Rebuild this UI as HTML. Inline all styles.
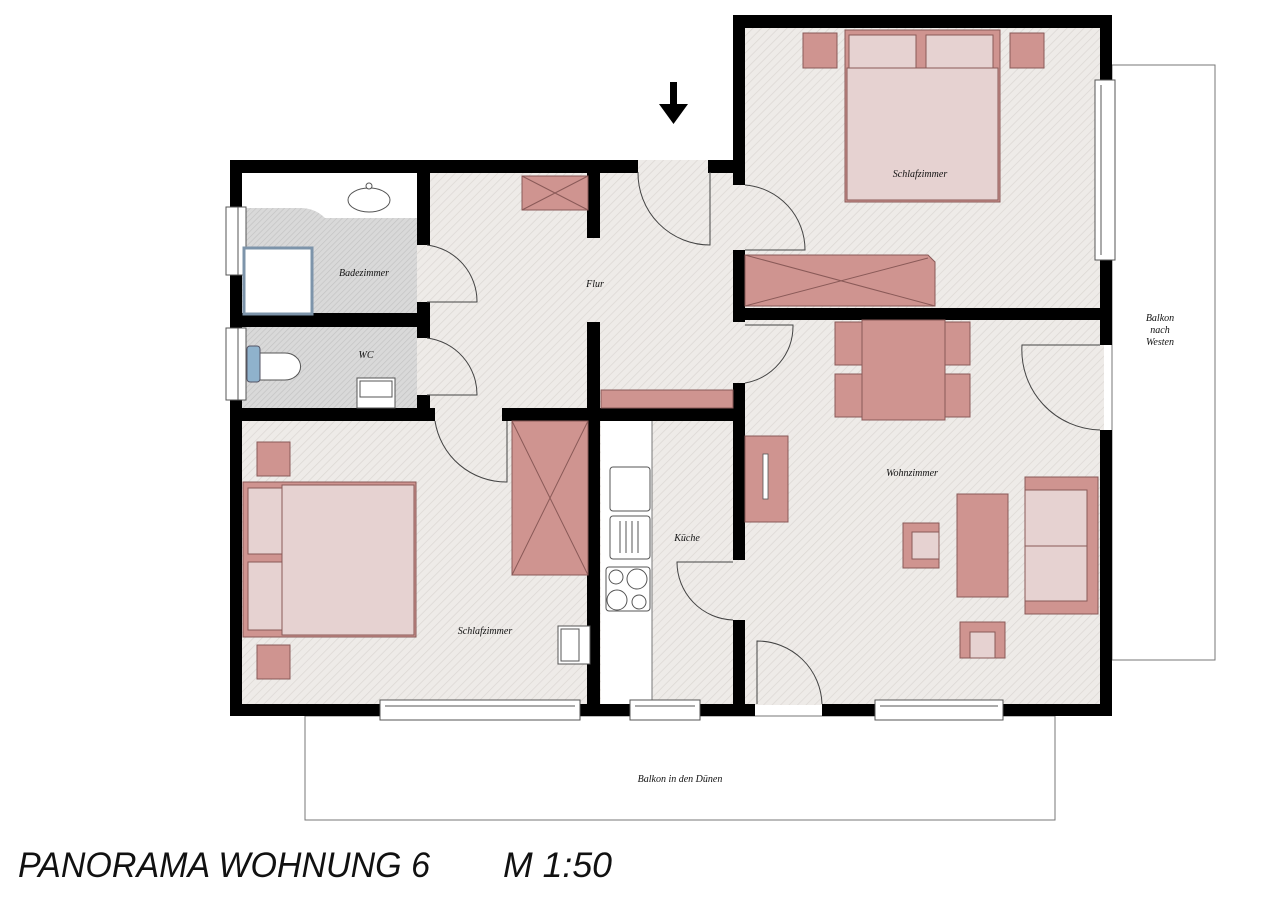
<!DOCTYPE html>
<html><head><meta charset="utf-8"><style>
html,body{margin:0;padding:0;background:#fff;}
svg{display:block;}
.t{font-family:"Liberation Serif",serif;font-style:italic;font-size:10px;fill:#111;}
.h{font-family:"Liberation Sans",sans-serif;font-style:italic;font-size:35px;fill:#111;}
</style></head><body>
<svg width="1280" height="905" viewBox="0 0 1280 905" xmlns="http://www.w3.org/2000/svg">
<defs>
<pattern id="fl" width="6" height="6" patternUnits="userSpaceOnUse" patternTransform="rotate(45)">
<rect width="6" height="6" fill="#eeebe8"/><line x1="0" y1="0" x2="0" y2="6" stroke="#dcd8d4" stroke-width="1.5"/></pattern>
<pattern id="bt" width="4" height="4" patternUnits="userSpaceOnUse" patternTransform="rotate(45)">
<rect width="4" height="4" fill="#d9d9d9"/><line x1="0" y1="0" x2="0" y2="4" stroke="#c2c2c2" stroke-width="1.3"/></pattern>
</defs>
<rect width="1280" height="905" fill="#fff"/>
<rect x="1112" y="65" width="103" height="595" fill="none" stroke="#777" stroke-width="1"/>
<rect x="305" y="716" width="750" height="104" fill="none" stroke="#777" stroke-width="1"/>
<rect x="242" y="172" width="500" height="535" fill="url(#fl)"/>
<rect x="742" y="25" width="362" height="680" fill="url(#fl)"/>
<rect x="638" y="160" width="100" height="14" fill="url(#fl)"/>
<rect x="242" y="172" width="175" height="145" fill="url(#bt)"/>
<path d="M242 172 H417 V218 H325 Q315 208 300 208 H242 Z" fill="#fff"/>
<rect x="242" y="327" width="175" height="81" fill="url(#bt)"/>
<rect x="601" y="420" width="51" height="284" fill="#fff"/>
<line x1="652" y1="420" x2="652" y2="704" stroke="#777"/>
<g fill="#000">
<rect x="230" y="160" width="408" height="13"/>
<rect x="708" y="160" width="37" height="13"/>
<rect x="733" y="15" width="12" height="170"/>
<rect x="733" y="15" width="379" height="13"/>
<rect x="1100" y="15" width="12" height="65"/>
<rect x="1100" y="260" width="12" height="85"/>
<rect x="1100" y="430" width="12" height="286"/>
<rect x="230" y="160" width="12" height="47"/>
<rect x="230" y="275" width="12" height="53"/>
<rect x="230" y="400" width="12" height="316"/>
<rect x="230" y="704" width="150" height="12"/>
<rect x="580" y="704" width="50" height="12"/>
<rect x="700" y="704" width="55" height="12"/>
<rect x="822" y="704" width="53" height="12"/>
<rect x="1003" y="704" width="109" height="12"/>
<rect x="417" y="172" width="13" height="73"/>
<rect x="417" y="302" width="13" height="36"/>
<rect x="417" y="395" width="13" height="25"/>
<rect x="230" y="313" width="200" height="14"/>
<rect x="230" y="408" width="205" height="13"/>
<rect x="502" y="408" width="243" height="13"/>
<rect x="587" y="172" width="13" height="66"/>
<rect x="587" y="322" width="13" height="394"/>
<rect x="733" y="250" width="12" height="72"/>
<rect x="733" y="383" width="12" height="177"/>
<rect x="733" y="620" width="12" height="96"/>
<rect x="733" y="308" width="379" height="12"/>
</g>
<g fill="#fff" stroke="#555" stroke-width="1">
<rect x="226" y="207" width="20" height="68"/><line x1="238" y1="207" x2="238" y2="275"/>
<rect x="226" y="328" width="20" height="72"/><line x1="238" y1="328" x2="238" y2="400"/>
<rect x="1095" y="80" width="20" height="180"/><line x1="1101" y1="85" x2="1101" y2="255"/>
<rect x="380" y="700" width="200" height="20"/><line x1="385" y1="706" x2="575" y2="706"/>
<rect x="630" y="700" width="70" height="20"/><line x1="635" y1="706" x2="695" y2="706"/>
<rect x="875" y="700" width="128" height="20"/><line x1="880" y1="706" x2="998" y2="706"/>
</g>
<g fill="none" stroke="#444" stroke-width="1">
<path d="M710 172 V245 A72 72 0 0 1 638 172"/>
<path d="M427 302 H477 A57 57 0 0 0 427 245"/>
<path d="M427 395 H477 A57 57 0 0 0 427 338"/>
<path d="M745 250 H805 A65 65 0 0 0 745 185"/>
<path d="M745 325 H793 A58 58 0 0 1 745 383"/>
<path d="M507 421 V482 A72 72 0 0 1 435 421"/>
<path d="M733 562 H677 A58 58 0 0 0 733 620"/>
<path d="M1100 345 H1022 A80 80 0 0 0 1100 430"/>
<path d="M757 704 V641 A65 65 0 0 1 822 704"/>
</g>
<g fill="#cf9490" stroke="#8a5a58" stroke-width="1">
<rect x="522" y="176" width="66" height="34"/>
<path d="M522 176 L588 210 M588 176 L522 210" fill="none"/>
<rect x="601" y="390" width="132" height="18"/>
<path d="M745 255 H928 L935 262 V306 H745 Z"/>
<path d="M745 255 L935 306 M745 306 L928 258" fill="none"/>
<rect x="803" y="33" width="34" height="35"/>
<rect x="1010" y="33" width="34" height="35"/>
<rect x="845" y="30" width="155" height="172"/>
<rect x="512" y="421" width="76" height="154"/>
<path d="M512 421 L588 575 M588 421 L512 575" fill="none"/>
<rect x="257" y="442" width="33" height="34"/>
<rect x="257" y="645" width="33" height="34"/>
<rect x="243" y="482" width="173" height="155"/>
<rect x="835" y="322" width="30" height="43"/><rect x="835" y="374" width="30" height="43"/>
<rect x="942" y="322" width="28" height="43"/><rect x="942" y="374" width="28" height="43"/>
<rect x="862" y="320" width="83" height="100"/>
<rect x="745" y="436" width="43" height="86"/>
<rect x="957" y="494" width="51" height="103"/>
<rect x="903" y="523" width="36" height="45"/>
<rect x="960" y="622" width="45" height="36"/>
<rect x="1025" y="477" width="73" height="137"/>
</g>
<g fill="#e6d2d1" stroke="#8a5a58" stroke-width="1">
<rect x="849" y="35" width="67" height="33"/><rect x="926" y="35" width="67" height="33"/>
<rect x="847" y="68" width="151" height="132"/>
<rect x="282" y="485" width="132" height="150"/>
<rect x="248" y="488" width="34" height="66"/><rect x="248" y="562" width="34" height="68"/>
<rect x="912" y="532" width="27" height="27"/>
<rect x="970" y="632" width="25" height="26"/>
<rect x="1025" y="490" width="62" height="56"/><rect x="1025" y="546" width="62" height="55"/>
</g>
<rect x="763" y="454" width="5" height="45" fill="#fff" stroke="#555" stroke-width="0.8"/>
<ellipse cx="369" cy="200" rx="21" ry="12" fill="#fff" stroke="#555"/>
<circle cx="369" cy="186" r="3" fill="#fff" stroke="#555"/>
<rect x="244" y="248" width="68" height="66" fill="#fff" stroke="#7d94aa" stroke-width="3"/>
<path d="M258 353 H285 A15 13 0 0 1 285 380 H258 Z" fill="#fff" stroke="#555"/>
<rect x="247" y="346" width="13" height="36" rx="3" fill="#8fb2cc" stroke="#556"/>
<rect x="357" y="378" width="38" height="30" fill="#fff" stroke="#555"/>
<rect x="360" y="381" width="32" height="16" fill="#fff" stroke="#555"/>
<g fill="#fff" stroke="#555">
<rect x="610" y="467" width="40" height="44" rx="3"/>
<rect x="610" y="516" width="40" height="43" rx="3"/>
<path d="M620 521 V553 M626 521 V553 M632 521 V553 M638 521 V553" />
<rect x="606" y="567" width="44" height="44" rx="3"/>
<circle cx="616" cy="577" r="7"/><circle cx="637" cy="579" r="10"/>
<circle cx="617" cy="600" r="10"/><circle cx="639" cy="602" r="7"/>
<rect x="558" y="626" width="32" height="38"/>
<rect x="561" y="629" width="18" height="32"/>
</g>
<rect x="670" y="82" width="7" height="28" fill="#000"/>
<path d="M659 104 H688 L673.5 124 Z" fill="#000"/>
<text class="t" x="364" y="276" text-anchor="middle">Badezimmer</text>
<text class="t" x="366" y="358" text-anchor="middle">WC</text>
<text class="t" x="595" y="287" text-anchor="middle">Flur</text>
<text class="t" x="920" y="177" text-anchor="middle">Schlafzimmer</text>
<text class="t" x="485" y="634" text-anchor="middle">Schlafzimmer</text>
<text class="t" x="687" y="541" text-anchor="middle">Küche</text>
<text class="t" x="912" y="476" text-anchor="middle">Wohnzimmer</text>
<text class="t" x="1160" y="321" text-anchor="middle">Balkon</text>
<text class="t" x="1160" y="333" text-anchor="middle">nach</text>
<text class="t" x="1160" y="345" text-anchor="middle">Westen</text>
<text class="t" x="680" y="782" text-anchor="middle">Balkon in den Dünen</text>
<text class="h" x="18" y="877" textLength="412" lengthAdjust="spacingAndGlyphs">PANORAMA WOHNUNG 6</text>
<text class="h" x="503" y="877" textLength="109" lengthAdjust="spacingAndGlyphs">M 1:50</text>
</svg>
</body></html>
